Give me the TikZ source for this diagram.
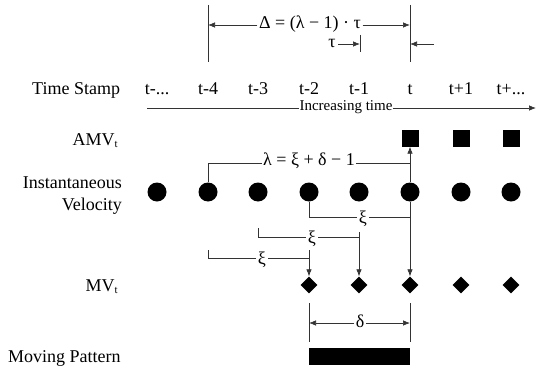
\documentclass[tikz,border=0pt]{standalone}
\usepackage{fontspec}
\setmainfont{Liberation Serif}
\usetikzlibrary{shapes.geometric,arrows.meta}
\newcommand{\tminus}{t-...}
\newcommand{\tplus}{t+...}
\begin{document}
\begin{tikzpicture}[x=1pt,y=-1pt,
  dot/.style={circle,fill=black,inner sep=0pt,minimum size=19pt},
  sq/.style={rectangle,fill=black,inner sep=0pt,minimum size=17pt},
  dia/.style={diamond,fill=black,inner sep=0pt,minimum width=17pt,minimum height=17pt},
  lbl/.style={font=\fontsize{18}{21}\selectfont,inner sep=0pt},
  onln/.style={font=\fontsize{18}{21}\selectfont,fill=white,inner sep=1.5pt},
  ln/.style={line width=0.7pt,draw=black!80},
  arr/.style={ln,-{Latex[length=7pt,width=5.5pt]}},
]
\useasboundingbox (0,0) rectangle (537,369);
% columns
\foreach \i/\x/\t in {0/157/\tminus,1/208/t-4,2/258/t-3,3/309/t-2,4/359/t-1,5/410/t,6/461/t+1,7/511/\tplus}{
  \node[lbl,anchor=base] (ts\i) at (\x,94) {\t};
  \node[dot] (c\i) at (\x,192) {};
}
\foreach \i/\x in {5/410,6/461,7/511}{ \node[sq] (a\i) at (\x,138) {}; }
\foreach \i/\x in {3/309,4/359,5/410,6/461,7/511}{ \node[dia] (m\i) at (\x,285) {}; }
% left labels
\node[lbl,anchor=base west] (lts) at (32,94) {Time Stamp};
\node[lbl,anchor=base east] (lamv) at (118,145) {AMV\raisebox{-0.35ex}{\fontsize{11}{11}\selectfont t}};
\node[lbl,anchor=base east,align=right] (liv) at (122,188) {Instantaneous};
\node[lbl,anchor=base east] (liv2) at (122,210) {Velocity};
\node[lbl,anchor=base east] (lmv) at (118,291) {MV\raisebox{-0.35ex}{\fontsize{11}{11}\selectfont t}};
\node[lbl,anchor=base west] (lmp) at (8,362) {Moving Pattern};
% increasing time
\coordinate (is) at (147,108);
\coordinate (ie) at (536,108);
\draw[arr] (is) -- (ie);
\node[font=\fontsize{15}{17}\selectfont,fill=white,inner sep=1pt] (inc) at (346,107) {Increasing time};
% Delta dimension
\coordinate (d1t) at (208,5); \coordinate (d1b) at (208,62);
\coordinate (d2t) at (410,5); \coordinate (d2b) at (410,62);
\draw[ln] (d1t) -- (d1b);
\draw[ln] (d2t) -- (d2b);
\coordinate (dl) at (208,25); \coordinate (dr) at (410,25);
\node[onln] (dtxt) at (310,24) {Δ = (λ − 1) · τ};
\draw[arr] (dtxt.west |- dl) -- (dl);
\draw[arr] (dtxt.east |- dr) -- (dr);
% tau
\coordinate (tt) at (360,35); \coordinate (tb) at (360,52);
\draw[ln] (tt) -- (tb);
\node[lbl] (tau) at (332,43) {τ};
\coordinate (tl) at (360,44);
\coordinate (tl0) at (338,44);
\draw[arr] (tl0) -- (tl);
\coordinate (tr0) at (434,44); \coordinate (tr) at (410,44);
\draw[arr] (tr0) -- (tr);
% lambda bracket
\coordinate (lb1) at (208,163);
\draw[ln] (c1.north) -- (c1.north |- lb1) -- (lb1 -| c5);
\draw[arr] (c5.north) -- (a5.south);
\node[onln] (lam) at (309,161) {λ = ξ + δ − 1};
% xi brackets
\coordinate (x1) at (309,217);
\draw[ln] (c3.south) -- (c3.south |- x1) -- (x1 -| c5);
\draw[arr] (c5.south) -- (m5.north);
\node[onln] (xi1) at (363,219) {ξ};
\coordinate (x2a) at (258,228); \coordinate (x2) at (258,237);
\coordinate (x2r) at (359,232);
\draw[ln] (x2a) -- (x2) -- (x2 -| c4);
\draw[arr] (x2r) -- (m4.north);
\node[onln] (xi2) at (312,239) {ξ};
\coordinate (x3a) at (208,250); \coordinate (x3) at (208,258);
\coordinate (x3r) at (309,250);
\draw[ln] (x3a) -- (x3) -- (x3 -| c3);
\draw[arr] (x3r) -- (m3.north);
\node[onln] (xi3) at (262,260) {ξ};
% delta dimension
\coordinate (e1t) at (309,303); \coordinate (e1b) at (309,342);
\coordinate (e2t) at (410,303); \coordinate (e2b) at (410,342);
\draw[ln] (e1t) -- (e1b);
\draw[ln] (e2t) -- (e2b);
\coordinate (el) at (309,323); \coordinate (er) at (410,323);
\node[onln] (dlt) at (360,321) {δ};
\draw[arr] (dlt.west |- el) -- (el);
\draw[arr] (dlt.east |- er) -- (er);
% moving pattern bar
\node[fill=black,inner sep=0pt,minimum width=101pt,minimum height=17pt] (bar) at (359.5,356.5) {};
\end{tikzpicture}
\end{document}
